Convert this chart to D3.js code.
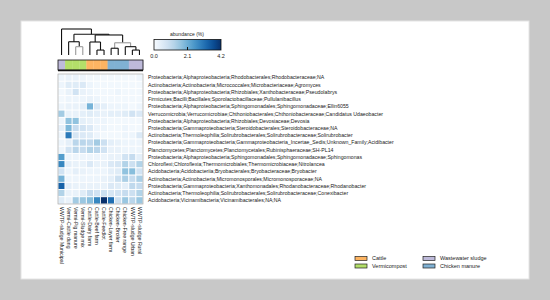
<!DOCTYPE html>
<html>
<head>
<meta charset="utf-8">
<script src="https://cdn.jsdelivr.net/npm/d3@7"></script>
<style>
  body { margin: 0; background: #c8c8c8; }
  svg { display: block; font-family: "Liberation Sans", Arial, sans-serif; }
</style>
</head>
<body>
<svg id="viz"></svg>
<script>
var width = 550;
var height = 300;

// taxa (rows, top to bottom)
var taxa = [
    "Proteobacteria;Alphaproteobacteria;Rhodobacterales;Rhodobacteraceae;NA",
    "Actinobacteria;Actinobacteria;Micrococcales;Microbacteriaceae;Agromyces",
    "Proteobacteria;Alphaproteobacteria;Rhizobiales;Xanthobacteraceae;Pseudolabrys",
    "Firmicutes;Bacilli;Bacillales;Sporolactobacillaceae;Pullulanibacillus",
    "Proteobacteria;Alphaproteobacteria;Sphingomonadales;Sphingomonadaceae;Ellin6055",
    "Verrucomicrobia;Verrucomicrobiae;Chthoniobacterales;Chthoniobacteraceae;Candidatus Udaeobacter",
    "Proteobacteria;Alphaproteobacteria;Rhizobiales;Devosiaceae;Devosia",
    "Proteobacteria;Gammaproteobacteria;Steroidobacterales;Steroidobacteraceae;NA",
    "Actinobacteria;Thermoleophilia;Solirubrobacterales;Solirubrobacteraceae;Solirubrobacter",
    "Proteobacteria;Gammaproteobacteria;Gammaproteobacteria_Incertae_Sedis;Unknown_Family;Acidibacter",
    "Planctomycetes;Planctomycetes;Planctomycetales;Rubinisphaeraceae;SH-PL14",
    "Proteobacteria;Alphaproteobacteria;Sphingomonadales;Sphingomonadaceae;Sphingomonas",
    "Chloroflexi;Chloroflexia;Thermomicrobiales;Thermomicrobiaceae;Nitrolancea",
    "Acidobacteria;Acidobacteriia;Bryobacterales;Bryobacteraceae;Bryobacter",
    "Actinobacteria;Actinobacteria;Micromonosporales;Micromonosporaceae;NA",
    "Proteobacteria;Gammaproteobacteria;Xanthomonadales;Rhodanobacteraceae;Rhodanobacter",
    "Actinobacteria;Thermoleophilia;Solirubrobacterales;Solirubrobacteraceae;Conexibacter",
    "Acidobacteria;Vicinamibacteria;Vicinamibacterales;NA;NA"
];

// samples (columns, left to right) and their source group
var samples = [
    "WWTP-sludge Municipal", "Vermi-Cattle dung", "Vermi-Pig manure", "Vermi-Sludge mix",
    "Cattle-Dairy farm", "Cattle-Beef farm", "Cattle-Feedlot",
    "Chicken-Layer farm", "Chicken-Broiler", "Chicken-Free range",
    "WWTP-sludge Urban", "WWTP-sludge Rural"
];
var sampleGroup = [
    "Wastewater sludge", "Vermicompost", "Vermicompost", "Vermicompost",
    "Cattle", "Cattle", "Cattle",
    "Chicken manure", "Chicken manure", "Chicken manure",
    "Wastewater sludge", "Wastewater sludge"
];

var groups = ["Cattle", "Vermicompost", "Wastewater sludge", "Chicken manure"];
var groupColors = ["#fdb462", "#b3de69", "#bebada", "#80b1d3"];

// relative abundance (%), one row per taxon
var abundance = [
    [0.2, 0.3, 0.3, 0.2, 0.1, 0.1, 0.1, 0.1, 0.1, 0.1, 0.1, 0.2],
    [0.2, 0.5, 0.5, 0.6, 0.2, 0.1, 0.1, 0.1, 0.1, 0.1, 0.1, 0.1],
    [0.1, 0.3, 0.8, 0.3, 0.2, 0.1, 0.1, 0.1, 0.2, 0.1, 0.1, 0.1],
    [0.1, 0.2, 0.2, 0.2, 0.3, 0.2, 0.1, 0.1, 0.1, 0.1, 0.1, 0.1],
    [0.2, 0.3, 0.3, 0.4, 2.0, 0.6, 0.4, 0.2, 0.2, 0.2, 0.1, 0.2],
    [1.5, 0.3, 0.3, 0.4, 0.5, 0.4, 0.3, 0.4, 0.4, 0.5, 0.8, 0.6],
    [0.2, 1.7, 1.7, 0.4, 0.3, 0.2, 0.2, 0.1, 0.1, 0.1, 0.1, 0.1],
    [0.4, 1.9, 1.0, 0.8, 0.6, 0.2, 0.2, 0.1, 0.1, 0.2, 0.1, 0.1],
    [0.2, 3.0, 0.7, 0.6, 0.5, 0.2, 0.1, 0.1, 0.1, 0.2, 0.2, 0.6],
    [0.2, 0.4, 1.2, 1.2, 1.1, 1.5, 0.9, 0.4, 0.3, 0.2, 0.2, 0.2],
    [0.2, 0.8, 1.2, 1.0, 1.3, 1.2, 0.8, 0.3, 0.3, 0.2, 0.2, 0.2],
    [2.4, 0.2, 0.2, 0.2, 0.2, 0.2, 0.2, 0.3, 0.3, 0.8, 1.0, 0.4],
    [2.8, 0.4, 0.3, 0.3, 0.6, 0.3, 0.3, 0.6, 0.7, 1.3, 0.9, 1.3],
    [0.8, 0.2, 0.4, 0.3, 0.2, 0.2, 0.2, 0.4, 0.5, 1.7, 1.8, 0.8],
    [2.0, 0.2, 0.2, 0.2, 0.2, 0.2, 0.3, 0.4, 0.9, 1.4, 1.0, 1.4],
    [3.4, 0.4, 0.3, 0.3, 0.3, 0.3, 0.3, 0.6, 0.5, 0.4, 1.1, 1.0],
    [1.3, 0.3, 0.3, 0.5, 1.0, 0.8, 0.9, 0.7, 0.8, 1.0, 0.9, 1.3],
    [0.5, 0.3, 1.5, 1.6, 1.8, 2.8, 4.2, 3.2, 0.9, 1.6, 1.2, 1.6]
];

var colorTicks = [0.0, 2.1, 4.2];

// sample clustering (leaf = column index, h = merge height)
var sampleTree = {h: 1.0, children: [
    {leaf: 0},
    {h: 0.8, children: [
        {h: 0.51, children: [{leaf: 1}, {h: 0.32, gray: true, children: [{leaf: 2}, {leaf: 3}]}]},
        {h: 0.77, children: [
            {h: 0.5, children: [{leaf: 4}, {h: 0.19, children: [{leaf: 5}, {leaf: 6}]}]},
            {h: 0.47, gray: true, children: [
                {h: 0.26, children: [{leaf: 7}, {leaf: 8}]},
                {h: 0.32, children: [{leaf: 9}, {h: 0.19, children: [{leaf: 10}, {leaf: 11}]}]}
            ]}
        ]}
    ]}
]};

var svg = d3.select("#viz").attr("width", width).attr("height", height);

// white page panel
svg.append("rect")
    .attr("x", 21).attr("y", 21)
    .attr("width", 508).attr("height", 258)
    .attr("fill", "#fff")
    .attr("stroke", "#e4e4e4");

var x = d3.scaleBand().domain(d3.range(samples.length)).range([58, 143]).padding(0);
var y = d3.scaleBand().domain(d3.range(taxa.length)).range([74, 204]).padding(0);
var color = d3.scaleSequential(d3.interpolateBlues).domain([0, 4.2]);
var groupColor = d3.scaleOrdinal().domain(groups).range(groupColors);

// heatmap cells
var cells = [];
abundance.forEach(function (row, i) {
    row.forEach(function (v, j) {
        cells.push({r: i, c: j, v: v});
    });
});

var heat = svg.append("g").attr("class", "heat");
heat.selectAll("rect")
    .data(cells)
    .enter()
    .append("rect")
    .attr("x", function (d) { return x(d.c); })
    .attr("y", function (d) { return y(d.r); })
    .attr("width", x.bandwidth())
    .attr("height", y.bandwidth())
    .attr("fill", function (d) { return color(d.v); })
    .attr("stroke", "#fff")
    .attr("stroke-width", 0.8);

heat.append("rect")
    .attr("x", 58).attr("y", 74)
    .attr("width", 85).attr("height", 130)
    .attr("fill", "none")
    .attr("stroke", "#9a9a9a")
    .attr("stroke-width", 0.6);

// row labels
svg.append("g").selectAll("text")
    .data(taxa)
    .enter()
    .append("text")
    .attr("x", 148)
    .attr("y", function (d, i) { return y(i) + y.bandwidth() / 2; })
    .attr("dy", "0.35em")
    .attr("font-size", 5.2)
    .attr("fill", "#222")
    .text(function (d) { return d; });

// column labels, rotated
svg.append("g").selectAll("text")
    .data(samples)
    .enter()
    .append("text")
    .attr("transform", function (d, i) {
        return "translate(" + (x(i) + x.bandwidth() / 2) + ",207) rotate(90)";
    })
    .attr("dy", "0.35em")
    .attr("font-size", 5.2)
    .attr("fill", "#222")
    .text(function (d) { return d; });

// group colour strip above heatmap
svg.append("g").selectAll("rect")
    .data(sampleGroup)
    .enter()
    .append("rect")
    .attr("x", function (d, i) { return x(i); })
    .attr("y", 60)
    .attr("width", x.bandwidth() + 0.3)
    .attr("height", 10)
    .attr("fill", function (d) { return groupColor(d); });

svg.append("rect")
    .attr("x", 58).attr("y", 60)
    .attr("width", 85).attr("height", 10)
    .attr("fill", "none")
    .attr("stroke", "#111")
    .attr("stroke-width", 0.8);
svg.append("line")
    .attr("x1", 58).attr("x2", 143)
    .attr("y1", 70.5).attr("y2", 70.5)
    .attr("stroke", "#111")
    .attr("stroke-width", 1.5);

// dendrogram
var hy = d3.scaleLinear().domain([0, 1]).range([55, 29]);
var root = d3.hierarchy(sampleTree);
root.eachAfter(function (n) {
    if (n.data.leaf !== undefined) {
        n.px = x(n.data.leaf) + x.bandwidth() / 2;
        n.py = hy(0);
    } else {
        n.px = d3.mean(n.children, function (c) { return c.px; });
        n.py = hy(n.data.h);
    }
});

var dendro = svg.append("g").attr("class", "dendro")
    .attr("fill", "none")
    .attr("stroke-width", 1.1);
root.each(function (n) {
    if (!n.children) return;
    var stroke = n.data.gray ? "#9a9a9a" : "#111";
    dendro.append("line")
        .attr("x1", n.children[0].px).attr("x2", n.children[1].px)
        .attr("y1", n.py).attr("y2", n.py)
        .attr("stroke", stroke);
    n.children.forEach(function (c) {
        dendro.append("line")
            .attr("x1", c.px).attr("x2", c.px)
            .attr("y1", n.py).attr("y2", c.py)
            .attr("stroke", stroke);
    });
});

// colour key
var key = svg.append("g").attr("class", "key");
var keyX = d3.scaleLinear().domain([0, 4.2]).range([154, 221]);
var grad = svg.append("defs").append("linearGradient").attr("id", "blues");
d3.range(0, 1.01, 0.1).forEach(function (t) {
    grad.append("stop")
        .attr("offset", (t * 100) + "%")
        .attr("stop-color", color(t * 4.2));
});
key.append("text")
    .attr("x", 187).attr("y", 36)
    .attr("text-anchor", "middle")
    .attr("font-size", 5)
    .attr("fill", "#222")
    .text("abundance (%)");
key.append("rect")
    .attr("x", 154).attr("y", 39.5)
    .attr("width", 67).attr("height", 10.5)
    .attr("fill", "url(#blues)")
    .attr("stroke", "#111")
    .attr("stroke-width", 0.8);
key.append("line")
    .attr("x1", keyX(2.1)).attr("x2", keyX(2.1))
    .attr("y1", 47).attr("y2", 50)
    .attr("stroke", "#111");
key.selectAll("text.tick")
    .data(colorTicks)
    .enter()
    .append("text")
    .attr("class", "tick")
    .attr("x", function (d) { return keyX(d); })
    .attr("y", 58)
    .attr("text-anchor", "middle")
    .attr("font-size", 5.5)
    .attr("fill", "#222")
    .text(function (d) { return d3.format(".1f")(d); });

// group legend
var legend = svg.append("g").attr("class", "legend");
var item = legend.selectAll("g")
    .data(groups)
    .enter()
    .append("g")
    .attr("transform", function (d, i) {
        return "translate(" + (355 + Math.floor(i / 2) * 68) + "," + (256.5 + (i % 2) * 7.5) + ")";
    });
item.append("rect")
    .attr("width", 12).attr("height", 4)
    .attr("fill", function (d) { return groupColor(d); })
    .attr("stroke", "#222")
    .attr("stroke-width", 0.7);
item.append("text")
    .attr("x", 17).attr("y", 2)
    .attr("dy", "0.35em")
    .attr("font-size", 5.5)
    .attr("fill", "#222")
    .text(function (d) { return d; });
</script>
</body>
</html>
